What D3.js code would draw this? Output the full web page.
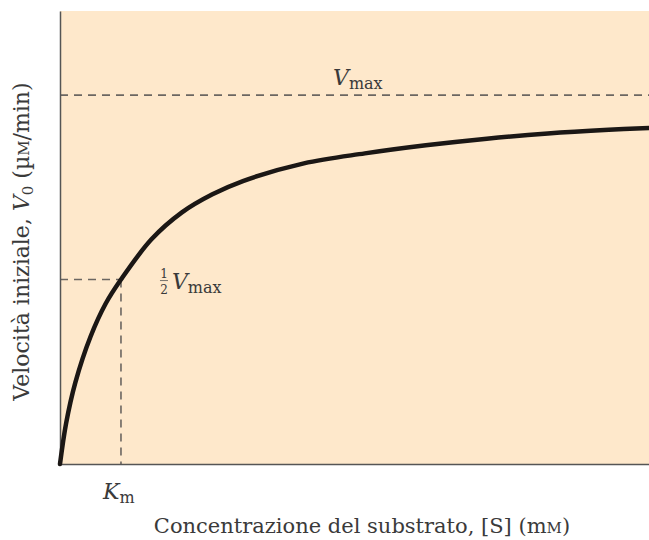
<!DOCTYPE html>
<html>
<head>
<meta charset="utf-8">
<script src="https://cdn.jsdelivr.net/npm/d3@7"></script>
<style>
	body { margin: 0; background: #fff; }
	text { font-family: "DejaVu Serif", serif; fill: #3a3a3a; }
</style>
</head>
<body>
<svg id="chart"></svg>
<script>
const width = 649
const height = 540
const margin = { top: 11, right: 0, bottom: 76, left: 60 }

// substrate concentration (units of Km) and velocity (fraction of Vmax)
const substrate = [0, 0.1, 0.25, 0.5, 0.75, 1, 1.5, 2, 2.5, 3, 4, 5, 6, 7, 8, 9, 9.66]
const velocity = [0, 0.11, 0.22, 0.345, 0.435, 0.5, 0.609, 0.682, 0.731, 0.767, 0.815, 0.842, 0.864, 0.882, 0.896, 0.906, 0.911]
const vmax = 1
const km = 1
const xMax = 9.66
const yMax = 1.228

const svg = d3.select("#chart")
	.attr("width", width)
	.attr("height", height)

const x = d3.scaleLinear().domain([0, xMax]).range([margin.left, width - margin.right])
const y = d3.scaleLinear().domain([0, yMax]).range([height - margin.bottom, margin.top])

// plot background
svg.append("rect")
	.attr("x", x(0))
	.attr("y", y(yMax))
	.attr("width", x(xMax) - x(0))
	.attr("height", y(0) - y(yMax))
	.attr("fill", "#fee8cb")

// dashed guide lines
const guides = svg.append("g")
	.attr("stroke", "#6b6661")
	.attr("stroke-width", 1.6)
	.attr("stroke-dasharray", "8,6")
	.attr("fill", "none")

guides.append("line")
	.attr("x1", x(0)).attr("x2", x(xMax))
	.attr("y1", y(vmax)).attr("y2", y(vmax))
guides.append("line")
	.attr("x1", x(0)).attr("x2", x(km))
	.attr("y1", y(vmax / 2)).attr("y2", y(vmax / 2))
guides.append("line")
	.attr("x1", x(km)).attr("x2", x(km))
	.attr("y1", y(vmax / 2)).attr("y2", y(0))

// axes, no ticks
svg.append("g")
	.attr("transform", `translate(0,${y(0)})`)
	.call(d3.axisBottom(x).tickValues([]).tickSizeOuter(0))
	.call(g => g.select(".domain").attr("stroke", "#555").attr("stroke-width", 1.5))
svg.append("g")
	.attr("transform", `translate(${x(0)},0)`)
	.call(d3.axisLeft(y).tickValues([]).tickSizeOuter(0))
	.call(g => g.select(".domain").attr("stroke", "#555").attr("stroke-width", 1.5))

// the curve
const line = d3.line()
	.x(i => x(substrate[i]))
	.y(i => y(velocity[i]))
	.curve(d3.curveCatmullRom.alpha(0.5))

svg.append("path")
	.datum(d3.range(substrate.length))
	.attr("d", line)
	.attr("fill", "none")
	.attr("stroke", "#1b1715")
	.attr("stroke-width", 4.5)
	.attr("stroke-linecap", "round")

// Vmax label
const vLabel = svg.append("text")
	.attr("x", 333)
	.attr("y", y(vmax) - 10)
	.attr("font-size", 22)
vLabel.append("tspan").attr("font-style", "italic").text("V")
vLabel.append("tspan").attr("font-size", 16).attr("dy", 4).text("max")

// 1/2 Vmax label
const half = svg.append("g")
	.attr("transform", `translate(${x(km) + 43},${y(vmax / 2)})`)
half.append("text").attr("x", 0).attr("y", -2).attr("text-anchor", "middle").attr("font-size", 12).text("1")
half.append("line").attr("x1", -4).attr("x2", 4).attr("y1", 1).attr("y2", 1).attr("stroke", "#555").attr("stroke-width", 0.8)
half.append("text").attr("x", 0).attr("y", 14).attr("text-anchor", "middle").attr("font-size", 12).text("2")
const hLabel = half.append("text")
	.attr("x", 8)
	.attr("y", 9)
	.attr("font-size", 22)
hLabel.append("tspan").attr("font-style", "italic").text("V")
hLabel.append("tspan").attr("font-size", 16).attr("dy", 4).text("max")

// Km label
const kLabel = svg.append("text")
	.attr("x", x(km) - 18)
	.attr("y", y(0) + 35)
	.attr("font-size", 22)
kLabel.append("tspan").attr("font-style", "italic").text("K")
kLabel.append("tspan").attr("font-size", 16).attr("dy", 4).text("m")

// x title
const xTitle = svg.append("text")
	.attr("x", 362)
	.attr("y", height - 7)
	.attr("text-anchor", "middle")
	.attr("font-size", 21)
xTitle.append("tspan").text("Concentrazione del substrato, [S] (m")
xTitle.append("tspan").attr("font-size", 15).text("M")
xTitle.append("tspan").text(")")

// y title
const yTitle = svg.append("text")
	.attr("transform", `translate(29,${(y(0) + y(yMax)) / 2 + 4}) rotate(-90)`)
	.attr("text-anchor", "middle")
	.attr("font-size", 22)
yTitle.append("tspan").text("Velocità iniziale, ")
yTitle.append("tspan").attr("font-style", "italic").text("V")
yTitle.append("tspan").attr("font-size", 15).attr("dy", 4).text("0")
yTitle.append("tspan").attr("dy", -4).text(" (µ")
yTitle.append("tspan").attr("font-size", 15).text("M")
yTitle.append("tspan").text("/min)")
</script>
</body>
</html>
